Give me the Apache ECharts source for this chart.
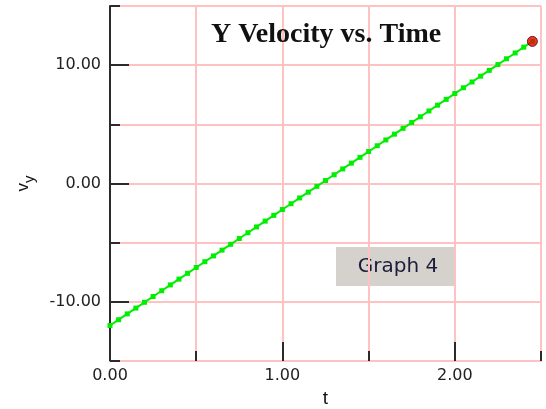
<!DOCTYPE html>
<html>
<head>
<meta charset="utf-8">
<script src="https://cdn.jsdelivr.net/npm/echarts@6/dist/echarts.min.js"></script>
<style>
  html, body { margin: 0; padding: 0; background: #fff; }
  #main { width: 546px; height: 409px; }
</style>
</head>
<body>
<div id="main"></div>
<script>
// sampled times (s)
var tValues = [
  0.00, 0.05, 0.10, 0.15, 0.20, 0.25, 0.30, 0.35, 0.40, 0.45,
  0.50, 0.55, 0.60, 0.65, 0.70, 0.75, 0.80, 0.85, 0.90, 0.95,
  1.00, 1.05, 1.10, 1.15, 1.20, 1.25, 1.30, 1.35, 1.40, 1.45,
  1.50, 1.55, 1.60, 1.65, 1.70, 1.75, 1.80, 1.85, 1.90, 1.95,
  2.00, 2.05, 2.10, 2.15, 2.20, 2.25, 2.30, 2.35, 2.40, 2.45
];
// y velocity
var vyValues = [
  -12.00, -11.51, -11.02, -10.53, -10.04, -9.55, -9.06, -8.57, -8.08, -7.59,
  -7.10, -6.61, -6.12, -5.63, -5.14, -4.65, -4.16, -3.67, -3.18, -2.69,
  -2.20, -1.71, -1.22, -0.73, -0.24, 0.25, 0.74, 1.23, 1.72, 2.21,
  2.70, 3.19, 3.68, 4.17, 4.66, 5.15, 5.64, 6.13, 6.62, 7.11,
  7.60, 8.09, 8.58, 9.07, 9.56, 10.05, 10.54, 11.03, 11.52, 12.01
];
var xLabelTicks = [0, 1, 2];
var yLabelTicks = [-10, 0, 10];

var pink = '#ffc2c2';
var dark = '#2b2b2b';

var points = tValues.map(function (t, i) { return [t, vyValues[i]]; });
var last = points[points.length - 1];

var gridBox = { left: 110, right: 5, top: 6, bottom: 48, outerBoundsMode: 'none', containLabel: false };
var fmt = function (v) { return v.toFixed(2); };

var chart = echarts.init(document.getElementById('main'));
chart.setOption({
  animation: false,
  backgroundColor: '#fff',
  title: {
    text: 'Y Velocity vs. Time',
    left: 206,
    top: 16,
    textStyle: {
      fontFamily: 'Liberation Serif',
      fontWeight: 'bold',
      fontSize: 28,
      color: '#111'
    }
  },
  grid: [
    Object.assign({}, gridBox),
    Object.assign({}, gridBox)
  ],
  xAxis: [
    {
      // short ticks + pink grid every 0.5
      gridIndex: 0,
      type: 'value',
      min: 0, max: 2.5, interval: 0.5,
      axisLine: { show: true, onZero: false, lineStyle: { color: pink, width: 2 } },
      axisTick: { show: true, inside: true, length: 10, lineStyle: { color: dark, width: 2 } },
      axisLabel: { show: false },
      splitLine: { show: true, lineStyle: { color: pink, width: 2 } }
    },
    {
      // long ticks + labels
      gridIndex: 1,
      type: 'value',
      min: 0, max: 2.5,
      name: 't',
      nameLocation: 'middle',
      nameGap: 27,
      nameTextStyle: { fontFamily: 'Liberation Sans', fontSize: 19, color: '#111' },
      axisLine: { show: false, onZero: false },
      axisTick: { show: true, inside: true, length: 19, customValues: xLabelTicks, lineStyle: { color: dark, width: 2 } },
      axisLabel: {
        show: true, customValues: xLabelTicks, margin: 7,
        formatter: fmt,
        fontFamily: 'DejaVu Sans', fontSize: 16, color: '#222'
      },
      splitLine: { show: false }
    }
  ],
  yAxis: [
    {
      gridIndex: 0,
      type: 'value',
      min: -15, max: 15, interval: 5,
      axisLine: { show: true, onZero: false, lineStyle: { color: dark, width: 2 } },
      axisTick: { show: true, inside: true, length: 10, lineStyle: { color: dark, width: 2 } },
      axisLabel: { show: false },
      splitLine: { show: true, lineStyle: { color: pink, width: 2 } }
    },
    {
      gridIndex: 1,
      type: 'value',
      min: -15, max: 15,
      name: '{v|v}{s|y}',
      nameLocation: 'middle',
      nameGap: 73,
      nameTextStyle: {
        rich: {
          v: { fontFamily: 'Liberation Sans', fontSize: 17, color: '#111', verticalAlign: 'top', lineHeight: 17 },
          s: { fontFamily: 'Liberation Sans', fontSize: 15, color: '#111', verticalAlign: 'bottom', lineHeight: 22 }
        }
      },
      axisLine: { show: false, onZero: false },
      axisTick: { show: true, inside: true, length: 19, customValues: yLabelTicks, lineStyle: { color: dark, width: 2 } },
      axisLabel: {
        show: true, customValues: yLabelTicks, margin: 9,
        padding: [5, 0, 0, 0],
        formatter: fmt,
        fontFamily: 'DejaVu Sans', fontSize: 16, color: '#222'
      },
      splitLine: { show: false }
    }
  ],
  graphic: [
    {
      type: 'group',
      left: 336,
      top: 247,
      children: [
        { type: 'rect', shape: { x: 0, y: 0, width: 120, height: 39 }, style: { fill: '#d5d2cd' } },
        {
          type: 'text', x: 62, y: 20,
          style: {
            text: 'Graph 4', align: 'center', verticalAlign: 'middle',
            fontFamily: 'DejaVu Sans', fontSize: 20, fill: '#1c1c3c'
          }
        }
      ]
    }
  ],
  series: [
    {
      type: 'line',
      xAxisIndex: 0, yAxisIndex: 0,
      data: points,
      showAllSymbol: true,
      symbol: 'rect',
      symbolSize: 5,
      itemStyle: { color: '#00ee00' },
      lineStyle: { color: '#00ee00', width: 2 },
      z: 3
    },
    {
      type: 'scatter',
      xAxisIndex: 0, yAxisIndex: 0,
      data: [last],
      symbol: 'circle',
      symbolSize: 10,
      itemStyle: { color: '#ee0000', borderColor: '#4a0000', borderWidth: 1 },
      z: 4
    }
  ]
});
</script>
</body>
</html>
